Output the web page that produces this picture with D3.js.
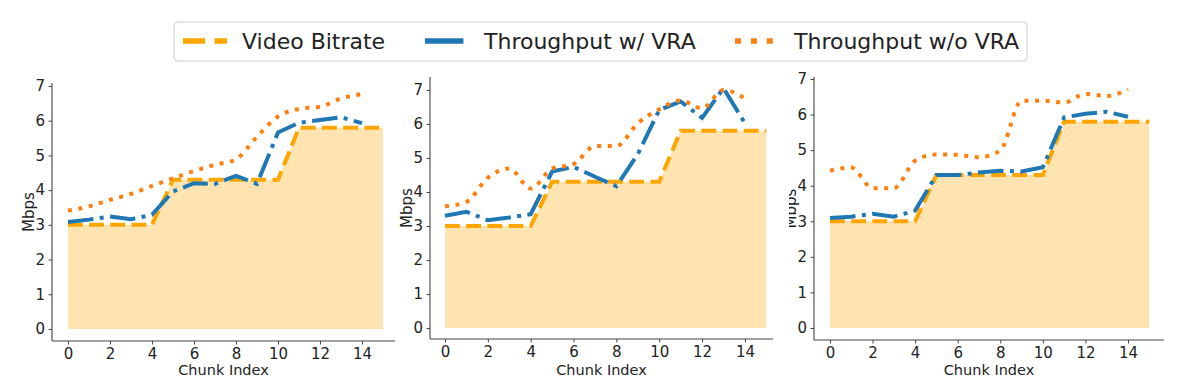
<!DOCTYPE html>
<html>
<head>
<meta charset="utf-8">
<script src="https://cdn.jsdelivr.net/npm/d3@7"></script>
<style>
  body { margin: 0; background: #fff; }
  text { font-family: "DejaVu Sans", sans-serif; fill: #222; }
</style>
</head>
<body>
<script>
// ---- data ----
var chunkIndex = [0, 1, 2, 3, 4, 5, 6, 7, 8, 9, 10, 11, 12, 13, 14, 15];
var videoBitrate = [3.0, 3.0, 3.0, 3.0, 3.0, 4.3, 4.3, 4.3, 4.3, 4.3, 4.3, 5.8, 5.8, 5.8, 5.8, 5.8];

var withVRA1 = [3.08, 3.15, 3.24, 3.16, 3.29, 3.96, 4.2, 4.18, 4.41, 4.18, 5.66, 5.94, 6.02, 6.1, 5.93];
var withoutVRA1 = [3.41, 3.53, 3.72, 3.89, 4.12, 4.34, 4.55, 4.73, 4.89, 5.54, 6.12, 6.34, 6.4, 6.64, 6.77];

var withVRA2 = [3.3, 3.42, 3.17, 3.25, 3.35, 4.6, 4.74, 4.45, 4.17, 5.11, 6.41, 6.66, 6.18, 7.05, 6.02];
var withoutVRA2 = [3.58, 3.71, 4.42, 4.69, 4.1, 4.69, 4.82, 5.35, 5.35, 6.02, 6.43, 6.69, 6.46, 7.0, 6.75];

var withVRA3 = [3.09, 3.13, 3.21, 3.13, 3.3, 4.3, 4.3, 4.37, 4.42, 4.4, 4.52, 5.92, 6.02, 6.08, 5.94];
var withoutVRA3 = [4.42, 4.51, 3.93, 3.93, 4.7, 4.88, 4.87, 4.8, 4.99, 6.39, 6.39, 6.34, 6.58, 6.52, 6.71];

var xTicks = [0, 2, 4, 6, 8, 10, 12, 14];
var yTicks = [0, 1, 2, 3, 4, 5, 6, 7];
var seriesNames = ["Video Bitrate", "Throughput w/ VRA", "Throughput w/o VRA"];

// ---- layout ----
var W = 1183, H = 386;
var panels = [
  { left: 52,  right: 395,  top: 83, bottom: 341, xDom: [-0.76, 15.57], yDom: [-0.346, 7.086], w: withVRA1, wo: withoutVRA1 },
  { left: 430, right: 773,  top: 77, bottom: 339, xDom: [-0.70, 15.31], yDom: [-0.32, 7.38],   w: withVRA2, wo: withoutVRA2 },
  { left: 814, right: 1164, top: 77, bottom: 340, xDom: [-0.75, 15.69], yDom: [-0.337, 7.056], w: withVRA3, wo: withoutVRA3, clipLabel: 789 }
];

var C_BITRATE = "#ffa500", C_WITH = "#1f77b4", C_WITHOUT = "#ff7f0e";
var LW = 4;

var svg = d3.select("body").append("svg")
    .attr("width", W)
    .attr("height", H);

svg.append("rect").attr("width", W).attr("height", H).attr("fill", "#fff");

var defs = svg.append("defs");

panels.forEach(function (p, i) {
  var x = d3.scaleLinear().domain(p.xDom).range([p.left, p.right]);
  var y = d3.scaleLinear().domain(p.yDom).range([p.bottom, p.top]);
  var g = svg.append("g").attr("class", "panel" + i);

  // fill under bitrate
  g.append("path")
    .datum(videoBitrate)
    .attr("d", d3.area()
      .x(function (d, k) { return x(chunkIndex[k]); })
      .y0(y(0))
      .y1(function (d) { return y(d); }))
    .attr("fill", C_BITRATE)
    .attr("fill-opacity", 0.3);

  var line = d3.line()
    .x(function (d, k) { return x(chunkIndex[k]); })
    .y(function (d) { return y(d); });

  g.append("path").datum(videoBitrate)
    .attr("d", line)
    .attr("fill", "none").attr("stroke", C_BITRATE).attr("stroke-width", LW)
    .attr("stroke-dasharray", "14.8,6.4");

  g.append("path").datum(p.w)
    .attr("d", line)
    .attr("fill", "none").attr("stroke", C_WITH).attr("stroke-width", LW)
    .attr("stroke-dasharray", "25.6,6.4,4,6.4");

  g.append("path").datum(p.wo)
    .attr("d", line.curve(d3.curveMonotoneX))
    .attr("fill", "none").attr("stroke", C_WITHOUT).attr("stroke-width", LW)
    .attr("stroke-dasharray", "4,6.6");

  // axes (left + bottom only)
  var xAxis = g.append("g")
    .attr("transform", "translate(0," + p.bottom + ")")
    .call(d3.axisBottom(x).tickValues(xTicks).tickSize(3.5).tickPadding(3.5));
  var yAxis = g.append("g")
    .attr("transform", "translate(" + p.left + ",0)")
    .call(d3.axisLeft(y).tickValues(yTicks).tickSize(3.5).tickPadding(3.5));

  [xAxis, yAxis].forEach(function (a) {
    a.select(".domain").attr("stroke", "#444").attr("stroke-width", 1.1)
      .attr("d", a === xAxis ? "M" + p.left + ",0H" + p.right : "M0," + p.top + "V" + p.bottom);
    a.selectAll(".tick line").attr("stroke", "#444").attr("stroke-width", 1);
    a.selectAll(".tick text").attr("font-size", 15).attr("fill", "#222")
      .style("font-family", "'DejaVu Sans', sans-serif");
  });

  g.append("text")
    .attr("x", (p.left + p.right) / 2)
    .attr("y", 375)
    .attr("text-anchor", "middle")
    .attr("font-size", 14.5)
    .text("Chunk Index");

  // y label; the third one is cut off on its left side in the original
  var lblWrap = g.append("g");
  lblWrap.append("text")
    .attr("transform", "translate(" + (p.left - 18) + "," + ((p.top + p.bottom) / 2) + ") rotate(-90)")
    .attr("text-anchor", "middle")
    .attr("font-size", 15)
    .text("Mbps");

  if (p.clipLabel) {
    defs.append("clipPath").attr("id", "clip" + i)
      .append("rect").attr("x", p.clipLabel).attr("y", 0).attr("width", W).attr("height", H);
    lblWrap.attr("clip-path", "url(#clip" + i + ")");
  }
});

// ---- legend ----
var legend = svg.append("g").attr("class", "legend");
legend.append("rect")
  .attr("x", 174).attr("y", 22).attr("width", 853).attr("height", 39).attr("rx", 4)
  .attr("fill", "#fff").attr("stroke", "#d0d0d0").attr("stroke-width", 1);

var sampleX = [183, 425, 735];
var legendStyles = [
  { color: C_BITRATE, dash: "22,9.6" },
  { color: C_WITH, dash: "38.4,9.6,6,9.6" },
  { color: C_WITHOUT, dash: "6,9.9" }
];
seriesNames.forEach(function (name, i) {
  legend.append("line")
    .attr("x1", sampleX[i]).attr("x2", sampleX[i] + 44)
    .attr("y1", 41).attr("y2", 41)
    .attr("stroke", legendStyles[i].color).attr("stroke-width", 5.5)
    .attr("stroke-dasharray", legendStyles[i].dash);
  legend.append("text")
    .attr("x", sampleX[i] + 59).attr("y", 49)
    .attr("font-size", 22)
    .attr("fill", "#111")
    .text(name);
});
</script>
</body>
</html>
